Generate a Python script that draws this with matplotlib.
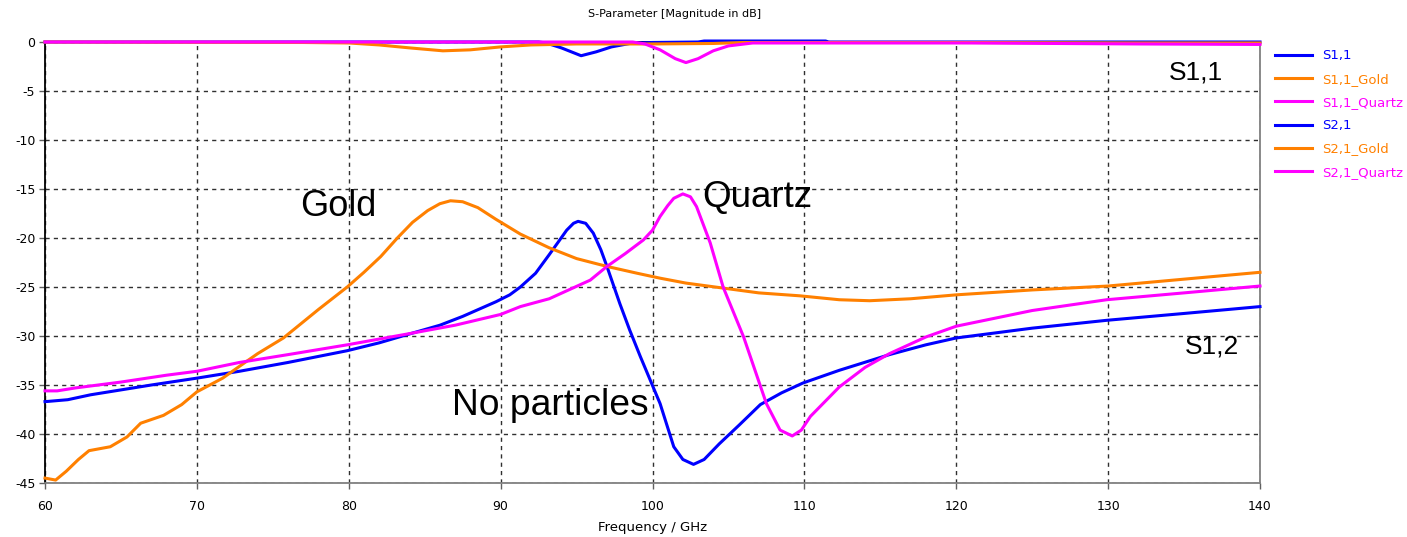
import matplotlib
matplotlib.use("Agg")
import matplotlib.pyplot as plt

plt.rcParams['font.family'] = ['DejaVu Sans']
plt.rcParams['axes.unicode_minus'] = False

# ---- data (frequency in GHz, magnitude in dB) ----
s11_x = [60, 92.5, 93, 94, 95.3, 96.3, 97.3, 98.5, 100, 103, 103.4, 111.4, 111.6, 140]
s11_y = [0, 0, -0.1, -0.6, -1.4, -1.0, -0.5, -0.15, -0.05, 0, 0.1, 0.1, 0, 0]

s11_gold_x = [60, 77, 80, 82, 84, 86.2, 88, 90, 92, 95, 100, 104, 106, 120, 132, 140]
s11_gold_y = [0, -0.05, -0.1, -0.3, -0.6, -0.9, -0.8, -0.5, -0.3, -0.2, -0.2, -0.15, -0.05, -0.05, -0.1, -0.1]

s11_quartz_x = [60, 98.7, 99.5, 100.5, 101.5, 102.2, 103, 104, 105, 106.6, 121, 132, 140]
s11_quartz_y = [0, 0, -0.2, -0.8, -1.7, -2.1, -1.7, -0.9, -0.4, -0.1, -0.1, -0.2, -0.25]

s21_x = [60, 61.5, 63, 65, 67, 70, 72.8, 76, 79.9, 82, 84.2, 86, 87.5, 89.7, 90.6, 91.3, 92.3,
         93.2, 93.8, 94.35, 94.8, 95.1, 95.6, 96.1, 96.6, 97.0, 97.85, 98.5, 99.2, 100.5, 101.4,
         102.0, 102.7, 103.4, 104.4, 105.7, 107.1, 108.5, 109.9, 112.3, 115.6, 118, 120, 125,
         129.9, 135, 140]
s21_y = [-36.7, -36.5, -36.0, -35.5, -35.0, -34.3, -33.6, -32.7, -31.5, -30.7, -29.7, -28.9,
         -28.0, -26.5, -25.8, -25.0, -23.6, -21.7, -20.4, -19.2, -18.5, -18.3, -18.5, -19.5,
         -21.2, -22.9, -26.7, -29.4, -32.1, -36.9, -41.3, -42.6, -43.1, -42.6, -41.0, -39.1,
         -37.0, -35.8, -34.8, -33.5, -31.9, -30.9, -30.2, -29.2, -28.4, -27.7, -27.0]

s21_gold_x = [60, 60.7, 61.4, 62.2, 62.9, 64.3, 65.4, 66.3, 67.8, 69, 70, 71.7, 72.8, 74,
              75.7, 78, 79.9, 81, 82.1, 83.2, 84.2, 85.2, 86, 86.7, 87.5, 88.5, 89.7, 91.3,
              93.2, 95, 97, 99, 100.5, 102.2, 104.6, 107, 109.7, 112.3, 114.3, 117, 120, 125,
              130, 135, 140]
s21_gold_y = [-44.5, -44.7, -43.8, -42.6, -41.7, -41.3, -40.3, -38.9, -38.1, -37.0, -35.7,
              -34.3, -33.1, -31.8, -30.2, -27.3, -25.0, -23.5, -21.9, -20.0, -18.4, -17.2,
              -16.5, -16.2, -16.3, -16.9, -18.1, -19.6, -21.0, -22.1, -22.9, -23.6, -24.1,
              -24.6, -25.1, -25.6, -25.9, -26.3, -26.4, -26.2, -25.8, -25.3, -24.9, -24.2, -23.5]

s21_quartz_x = [60, 60.8, 62, 65, 68, 70, 72.8, 76, 79.9, 84.2, 87, 90, 91.3, 93.2, 95.9,
                97.0, 98.2, 99.4, 100.0, 100.5, 101.0, 101.4, 102.0, 102.5, 102.9, 103.8,
                104.65, 106.0, 107.5, 108.4, 109.2, 109.8, 110.4, 112.3, 114, 115.6, 118,
                120, 125, 129.9, 135, 140]
s21_quartz_y = [-35.6, -35.6, -35.3, -34.7, -34.0, -33.6, -32.7, -31.9, -30.9, -29.7, -28.9,
                -27.8, -27.0, -26.2, -24.3, -22.9, -21.6, -20.2, -19.2, -17.8, -16.7, -15.95,
                -15.5, -15.8, -16.8, -20.5, -25.0, -30.1, -36.9, -39.6, -40.2, -39.6, -38.2,
                -35.2, -33.2, -31.8, -30.1, -29.0, -27.4, -26.3, -25.6, -24.9]

labels = ["S1,1", "S1,1_Gold", "S1,1_Quartz", "S2,1", "S2,1_Gold", "S2,1_Quartz"]
x_ticks = [60, 70, 80, 90, 100, 110, 120, 130, 140]
y_ticks = [0, -5, -10, -15, -20, -25, -30, -35, -40, -45]

BLUE = '#0000FF'
ORANGE = '#FF8000'
MAGENTA = '#FF00FF'
colors = [BLUE, ORANGE, MAGENTA, BLUE, ORANGE, MAGENTA]
series = [(s11_x, s11_y), (s11_gold_x, s11_gold_y), (s11_quartz_x, s11_quartz_y),
          (s21_x, s21_y), (s21_gold_x, s21_gold_y), (s21_quartz_x, s21_quartz_y)]

fig = plt.figure(figsize=(14.07, 5.37), dpi=100)
ax = fig.add_axes([45/1407, 1 - 483/537, (1260 - 45)/1407, (483 - 42)/537])

handles = []
for (xs, ys), c, lab in zip(series, colors, labels):
    h, = ax.plot(xs, ys, color=c, lw=2.2, label=lab, clip_on=False, zorder=3,
                 solid_joinstyle='round')
    handles.append(h)

ax.set_xlim(60, 140)
ax.set_ylim(-45, 0)
ax.set_xticks(x_ticks)
ax.set_yticks(y_ticks)
ax.tick_params(labelsize=9, length=4, width=1, color='#606060', pad=3)
ax.tick_params(axis='x', pad=8)
ax.grid(True, color='#303030', linestyle=(0, (3, 3)), linewidth=1)
for side in ['left', 'top']:
    ax.spines[side].set_color('black')
for side in ['bottom', 'right']:
    ax.spines[side].set_color('#808080')
for s in ax.spines.values():
    s.set_linewidth(1.3)
    s.set_zorder(2)

fig.text(675/1407, 1 - 14/537, "S-Parameter [Magnitude in dB]", fontsize=8,
         ha='center', va='center')
ax.set_xlabel("Frequency / GHz", fontsize=9.5, labelpad=6)

ann_font = ['Liberation Sans', 'DejaVu Sans']
ax.text(76.8, -17.8, "Gold", fontsize=26, family=ann_font, va='baseline', ha='left')
ax.text(103.3, -16.8, "Quartz", fontsize=26.5, family=ann_font, va='baseline', ha='left')
ax.text(86.8, -38.1, "No particles", fontsize=26.8, family=ann_font, va='baseline', ha='left')
ax.text(134.0, -3.8, "S1,1", fontsize=19, family=ann_font, va='baseline', ha='left')
ax.text(135.05, -31.8, "S1,2", fontsize=19, family=ann_font, va='baseline', ha='left')

leg = fig.legend(handles=handles, labels=labels, loc='upper left',
                 bbox_to_anchor=(1270/1407, 1 - 44/537), frameon=False, fontsize=9.5,
                 handlelength=2.8, handletextpad=0.75, labelspacing=0.78, borderaxespad=0)
for t, c in zip(leg.get_texts(), colors):
    t.set_color(c)

fig.savefig("out.png", dpi=100)
